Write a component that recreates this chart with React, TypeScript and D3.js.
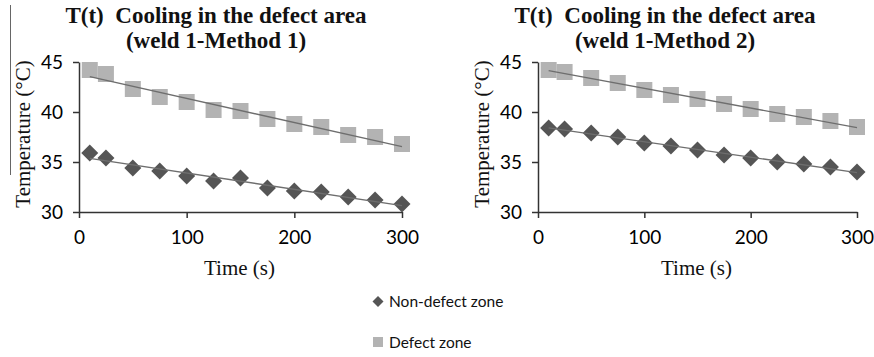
import React, { useRef, useEffect } from "react";
import * as d3 from "d3";

// Time samples (s), shared by both panels
const times = [10, 25, 50, 75, 100, 125, 150, 175, 200, 225, 250, 275, 300];

// Method 1 readings (°C)
const m1Defect = [44.2, 43.8, 42.3, 41.5, 41.0, 40.2, 40.1, 39.3, 38.8, 38.5, 37.7, 37.5, 36.8];
const m1NonDefect = [35.9, 35.4, 34.4, 34.1, 33.6, 33.1, 33.4, 32.4, 32.1, 32.0, 31.5, 31.2, 30.8];

// Method 2 readings (°C)
const m2Defect = [44.2, 44.0, 43.4, 42.9, 42.2, 41.7, 41.3, 40.8, 40.3, 39.8, 39.5, 39.1, 38.5];
const m2NonDefect = [38.4, 38.3, 37.9, 37.5, 36.9, 36.6, 36.2, 35.7, 35.4, 35.0, 34.8, 34.5, 34.0];

const xTicks = [0, 100, 200, 300];
const yTicks = [30, 35, 40, 45];

const panels = [
  { title: ["T(t)  Cooling in the defect area", "(weld 1-Method 1)"], defect: m1Defect, nonDefect: m1NonDefect, left: 79, right: 402, titleX: 216 },
  { title: ["T(t)  Cooling in the defect area", "(weld 1-Method 2)"], defect: m2Defect, nonDefect: m2NonDefect, left: 538, right: 857, titleX: 665 },
];

const DIAMOND = "#555555";
const SQUARE = "#b3b3b3";
const TREND = "#6e6e6e";
const AXIS = "#333333";
const SERIF = "'Liberation Serif', 'Times New Roman', serif";
const SANS = "Lato, 'Open Sans', sans-serif";

// least squares fit for the trend lines
function fit(xs: number[], ys: number[]) {
  const mx = d3.mean(xs)!;
  const my = d3.mean(ys)!;
  const num = d3.sum(xs, (x, i) => (x - mx) * (ys[i] - my));
  const den = d3.sum(xs, x => (x - mx) ** 2);
  const b = num / den;
  return (x: number) => my + b * (x - mx);
}

const App: React.FC = () => {
  const svgRef = useRef<SVGSVGElement>(null);

  useEffect(() => {
    const width = 874;
    const height = 357;
    const svg = d3.select(svgRef.current);
    svg.selectAll("*").remove();
    svg.attr("width", width).attr("height", height);

    const top = 62;
    const bottom = 212;

    // stray rule at the top-left
    svg.append("line")
      .attr("x1", 10.5).attr("x2", 10.5)
      .attr("y1", 5).attr("y2", 175)
      .attr("stroke", "#666").attr("stroke-width", 1);

    panels.forEach(p => {
      const x = d3.scaleLinear().domain([0, 300]).range([p.left, p.right]);
      const y = d3.scaleLinear().domain([30, 45]).range([bottom, top]);
      const g = svg.append("g");

      // title
      p.title.forEach((t, i) => {
        g.append("text")
          .attr("x", p.titleX)
          .attr("y", 23 + i * 25)
          .attr("text-anchor", "middle")
          .attr("font-family", SERIF)
          .attr("font-weight", "bold")
          .attr("font-size", 23)
          .attr("fill", "#111")
          .style("white-space", "pre")
          .text(t);
      });

      // axes
      const xAxis = g.append("g")
        .attr("transform", `translate(0,${bottom})`)
        .call(d3.axisBottom(x).tickValues(xTicks).tickSize(6).tickSizeOuter(0).tickPadding(13));
      const yAxis = g.append("g")
        .attr("transform", `translate(${p.left},0)`)
        .call(d3.axisLeft(y).tickValues(yTicks).tickSize(6).tickSizeOuter(0).tickPadding(10));
      [xAxis, yAxis].forEach(a => {
        a.select(".domain").attr("stroke", AXIS).attr("stroke-width", 1.5);
        a.selectAll(".tick line").attr("stroke", AXIS).attr("stroke-width", 1.5);
        a.selectAll(".tick text")
          .attr("font-family", SANS)
          .attr("font-size", 19)
          .attr("fill", "#000");
      });
      yAxis.selectAll(".tick text").attr("dy", "0.36em");

      // axis titles
      g.append("text")
        .attr("x", (p.left + p.right) / 2 - 1)
        .attr("y", 275)
        .attr("text-anchor", "middle")
        .attr("font-family", SERIF)
        .attr("font-size", 21)
        .attr("fill", "#111")
        .text("Time (s)");
      g.append("text")
        .attr("transform", `translate(${p.left - 49},${(top + bottom) / 2 - 3}) rotate(-90)`)
        .attr("text-anchor", "middle")
        .attr("font-family", SERIF)
        .attr("font-size", 21)
        .attr("fill", "#111")
        .text("Temperature (\u00B0C)");

      // markers
      const sq = 16;
      g.selectAll(".sq")
        .data(times.map((t, i) => ({ t, v: p.defect[i] })))
        .enter()
        .append("rect")
        .attr("x", d => x(d.t) - sq / 2)
        .attr("y", d => y(d.v) - sq / 2)
        .attr("width", sq)
        .attr("height", sq)
        .attr("fill", SQUARE);

      const dia = 8.5;
      g.selectAll(".dia")
        .data(times.map((t, i) => ({ t, v: p.nonDefect[i] })))
        .enter()
        .append("path")
        .attr("d", d => {
          const px = x(d.t), py = y(d.v);
          return `M${px},${py - dia}L${px + dia},${py}L${px},${py + dia}L${px - dia},${py}Z`;
        })
        .attr("fill", DIAMOND);

      // trend lines
      [p.defect, p.nonDefect].forEach(vals => {
        const f = fit(times, vals);
        g.append("line")
          .attr("x1", x(times[0])).attr("y1", y(f(times[0])))
          .attr("x2", x(300)).attr("y2", y(f(300)))
          .attr("stroke", TREND).attr("stroke-width", 1.3);
      });
    });

    // legend
    const lg = svg.append("g");
    const lx = 378;
    lg.append("path")
      .attr("d", `M${lx},${296}L${lx + 5.5},${301.5}L${lx},${307}L${lx - 5.5},${301.5}Z`)
      .attr("fill", DIAMOND);
    lg.append("text")
      .attr("x", 389).attr("y", 307)
      .attr("font-family", SANS)
      .attr("font-size", 15.5)
      .attr("fill", "#111")
      .text("Non-defect zone");
    lg.append("rect")
      .attr("x", 373).attr("y", 337).attr("width", 10).attr("height", 10)
      .attr("fill", SQUARE);
    lg.append("text")
      .attr("x", 389).attr("y", 348)
      .attr("font-family", SANS)
      .attr("font-size", 15.5)
      .attr("fill", "#111")
      .text("Defect zone");
  }, []);

  return (
    <div style={{ position: "absolute", left: 0, top: 0, width: 874, height: 357, background: "#fff" }}>
      <svg ref={svgRef} style={{ display: "block" }} />
    </div>
  );
};

export default App;
